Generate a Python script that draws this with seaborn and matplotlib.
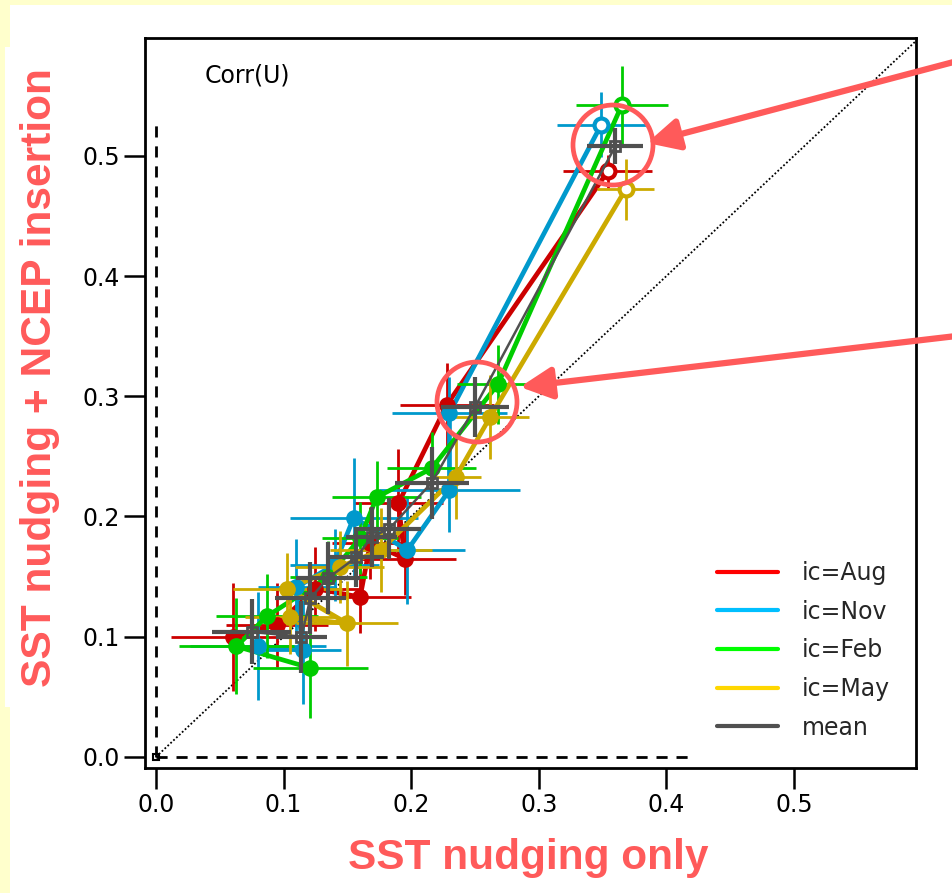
import numpy as np
import pandas as pd
import matplotlib
matplotlib.use("Agg")
import matplotlib.pyplot as plt
import seaborn as sns
from matplotlib.lines import Line2D
from matplotlib.patches import Rectangle, Ellipse
from matplotlib import font_manager

# ---------------- data ----------------
series_names = ["ic=Aug", "ic=Nov", "ic=Feb", "ic=May", "mean"]

aug_x = [0.354, 0.228, 0.190, 0.195, 0.168, 0.160, 0.125, 0.095, 0.060]
aug_y = [0.487, 0.293, 0.211, 0.165, 0.178, 0.133, 0.140, 0.110, 0.100]
aug_xerr = [0.035, 0.037, 0.035, 0.040, 0.030, 0.040, 0.035, 0.040, 0.048]
aug_yerr = [0.014, 0.035, 0.045, 0.030, 0.030, 0.030, 0.035, 0.035, 0.045]

nov_x = [0.349, 0.230, 0.230, 0.197, 0.155, 0.140, 0.110, 0.115, 0.080]
nov_y = [0.526, 0.286, 0.222, 0.172, 0.199, 0.160, 0.141, 0.089, 0.092]
nov_xerr = [0.035, 0.045, 0.055, 0.045, 0.050, 0.035, 0.030, 0.030, 0.053]
nov_yerr = [0.027, 0.030, 0.035, 0.045, 0.050, 0.030, 0.040, 0.045, 0.045]

feb_x = [0.365, 0.268, 0.216, 0.173, 0.160, 0.135, 0.087, 0.063, 0.121]
feb_y = [0.542, 0.310, 0.240, 0.216, 0.182, 0.150, 0.117, 0.092, 0.074]
feb_xerr = [0.036, 0.032, 0.035, 0.035, 0.030, 0.030, 0.040, 0.045, 0.045]
feb_yerr = [0.033, 0.033, 0.030, 0.030, 0.030, 0.030, 0.035, 0.040, 0.042]

may_x = [0.368, 0.262, 0.235, 0.176, 0.144, 0.103, 0.150, 0.105]
may_y = [0.472, 0.283, 0.233, 0.172, 0.158, 0.140, 0.111, 0.116]
may_xerr = [0.022, 0.030, 0.020, 0.040, 0.035, 0.043, 0.040, 0.035]
may_yerr = [0.025, 0.035, 0.035, 0.035, 0.030, 0.030, 0.035, 0.030]

mean_x = [0.360, 0.250, 0.216, 0.183, 0.169, 0.157, 0.135, 0.121, 0.114, 0.075]
mean_y = [0.508, 0.291, 0.228, 0.190, 0.183, 0.166, 0.149, 0.132, 0.100, 0.104]
mean_xerr = [0.022, 0.027, 0.029, 0.025, 0.020, 0.022, 0.025, 0.028, 0.020, 0.031]
mean_yerr = [0.015, 0.025, 0.030, 0.025, 0.025, 0.025, 0.030, 0.030, 0.030, 0.027]

x_ticks = [0.0, 0.1, 0.2, 0.3, 0.4, 0.5]
y_ticks = [0.0, 0.1, 0.2, 0.3, 0.4, 0.5]

# ---------------- styles ----------------
data_colors = ["#CC0000", "#0099CC", "#00CC00", "#CCAA00", "#505050"]
legend_colors = ["#FF0000", "#00BFFF", "#00FF00", "#FFD700", "#505050"]
red_note = "#FF5A5A"

sns.set_theme(style="white")
plt.rcParams["font.family"] = ["DejaVu Sans"]

W, H = 953, 893
fig = plt.figure(figsize=(W / 100, H / 100), dpi=100)
fig.patch.set_facecolor("#FFFFCC")
# white slide boxes
fig.add_artist(Rectangle((10 / W, 0), 1, 1 - 5 / H, transform=fig.transFigure,
                         facecolor="white", edgecolor="none", zorder=-10))
fig.add_artist(Rectangle((5 / W, 1 - 707 / H), 60 / W, (707 - 47) / H,
                         transform=fig.transFigure, facecolor="white",
                         edgecolor="none", zorder=-10))

L, R, T, B = 145, 916, 38, 768
ax = fig.add_axes([L / W, 1 - B / H, (R - L) / W, (B - T) / H])
ax.set_facecolor("white")

# reference lines
ax.plot([0, 0.6], [0, 0.6], color="black", lw=1.3, ls=(0, (1, 1.2)), zorder=1)
ax.plot([0, 0], [0, 0.53], color="black", lw=2, dashes=(4, 3.2), zorder=1)
ax.plot([0, 0.418], [0, 0], color="black", lw=2, dashes=(4, 3.2), zorder=1)
ax.plot([0], [0], marker="s", ms=5, mfc="none", mec="black", mew=1.5)

all_x = [aug_x, nov_x, feb_x, may_x, mean_x]
all_y = [aug_y, nov_y, feb_y, may_y, mean_y]
all_xe = [aug_xerr, nov_xerr, feb_xerr, may_xerr, mean_xerr]
all_ye = [aug_yerr, nov_yerr, feb_yerr, may_yerr, mean_yerr]

for i, name in enumerate(series_names):
    df = pd.DataFrame({"x": all_x[i], "y": all_y[i]})
    c = data_colors[i]
    is_mean = name == "mean"
    z = 5 if is_mean else 3
    ax.errorbar(df["x"], df["y"], xerr=all_xe[i], yerr=all_ye[i], fmt="none",
                ecolor=c, elinewidth=3 if is_mean else 2, capsize=0, zorder=z)
    sns.lineplot(data=df, x="x", y="y", sort=False, estimator=None, ax=ax,
                 color=c, lw=1.8 if is_mean else 3.4, legend=False, zorder=z)
    if is_mean:
        ax.plot(df["x"], df["y"], ls="none", marker="s", ms=7, mfc="none",
                mec=c, mew=2, zorder=z + 0.5)
    else:
        ax.plot(df["x"][1:], df["y"][1:], ls="none", marker="o", ms=11,
                mfc=c, mec=c, zorder=z + 0.5)
        ax.plot(df["x"][:1], df["y"][:1], ls="none", marker="o", ms=10,
                mfc="white", mec=c, mew=3, zorder=z + 0.5)

ax.set_xlim(-0.0086, 0.5956)
ax.set_ylim(-0.0092, 0.598)
ax.set_xticks(x_ticks)
ax.set_yticks(y_ticks)
ax.set_xticklabels([f"{v:.1f}" for v in x_ticks])
ax.set_yticklabels([f"{v:.1f}" for v in y_ticks])
ax.tick_params(axis="both", direction="out", length=15, width=1.8, pad=3,
               labelsize=17, colors="black", bottom=True, left=True)
ax.set_xlabel("")
ax.set_ylabel("")
for s in ax.spines.values():
    s.set_visible(True)
    s.set_color("black")
    s.set_linewidth(2)

ax.text(0.038, 0.567, "Corr(U)", fontsize=17, ha="left", va="center",
        color="black")

handles = [Line2D([], [], color=c, lw=3) for c in legend_colors]
leg = ax.legend(handles, series_names, loc="upper left",
                bbox_to_anchor=(717 / W, 1 - 561 / H),
                bbox_transform=fig.transFigure, frameon=False, fontsize=17,
                handlelength=2.6, handletextpad=1.0, labelspacing=0.62,
                borderpad=0, borderaxespad=0)

# red annotation circles and arrows
def px_to_fig(x, y):
    return x / W, 1 - y / H

for cx, cy in [(613, 145), (477, 402)]:
    fx, fy = px_to_fig(cx, cy)
    fig.add_artist(Ellipse((fx, fy), 80 / W, 80 / H, transform=fig.transFigure,
                           facecolor="none", edgecolor=red_note, lw=3.4,
                           zorder=20))

for (x0, y0), (x1, y1) in [((965, 59), (647, 143)), ((965, 335), (520, 387))]:
    ax.annotate("", xy=(x1, H - y1), xycoords="figure pixels",
                xytext=(x0, H - y0), textcoords="figure pixels",
                arrowprops=dict(arrowstyle="-|>,head_length=0.8,head_width=0.4",
                                color=red_note, lw=4.5, shrinkA=0, shrinkB=0,
                                mutation_scale=24),
                annotation_clip=False, zorder=21)

# axis titles in red bold font, fitted to the reference lengths
names = {f.name for f in font_manager.fontManager.ttflist}
if "Liberation Sans Narrow" in names:
    lab_family = "Liberation Sans Narrow"
elif "Liberation Sans" in names:
    lab_family = "Liberation Sans"
else:
    lab_family = "DejaVu Sans"

fig.canvas.draw()
renderer = fig.canvas.get_renderer()

def fitted_text(x, y, s, target_len, rotation, size0):
    t = fig.text(x, y, s, fontsize=size0, fontweight="bold", color=red_note,
                 family=lab_family, rotation=rotation, ha="center", va="center")
    bb = t.get_window_extent(renderer)
    cur = bb.height if rotation == 90 else bb.width
    t.set_fontsize(size0 * target_len / cur)
    return t

fitted_text(40 / W, 1 - 377.5 / H, "SST nudging + NCEP insertion", 619, 90, 28)
fitted_text(528 / W, 1 - 858 / H, "SST nudging only", 360, 0, 28)

fig.savefig("out.png", dpi=100, facecolor=fig.get_facecolor())
